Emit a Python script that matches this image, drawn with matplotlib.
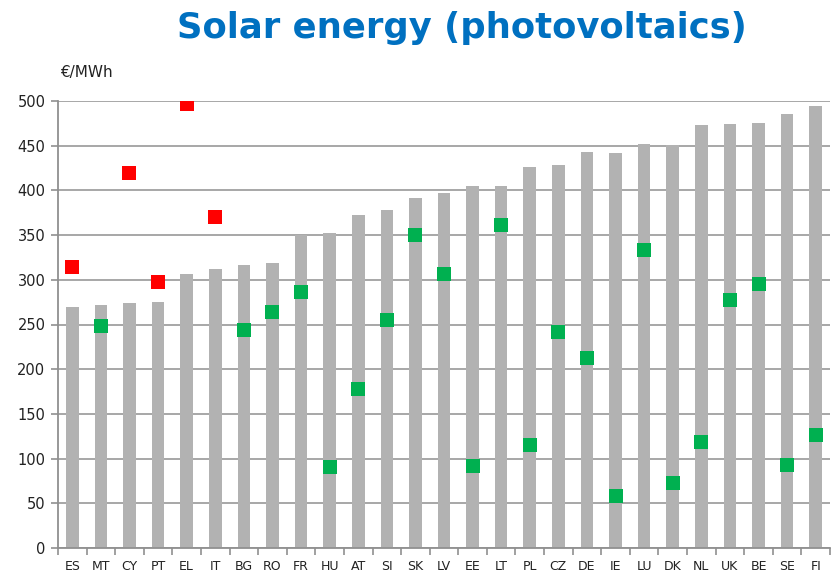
import matplotlib
matplotlib.use("Agg")
import matplotlib.pyplot as plt
import numpy as np

countries = ["ES", "MT", "CY", "PT", "EL", "IT", "BG", "RO", "FR", "HU", "AT", "SI", "SK",
             "LV", "EE", "LT", "PL", "CZ", "DE", "IE", "LU", "DK", "NL", "UK", "BE", "SE", "FI"]
bar_values = [270, 272, 274, 275, 306, 312, 316, 319, 350, 352, 372, 378, 391,
              397, 405, 405, 426, 428, 443, 442, 452, 451, 473, 474, 475, 486, 494]
red_countries = ["ES", "CY", "PT", "EL", "IT"]
red_values = [314, 420, 297, 497, 370]
green_countries = ["MT", "BG", "RO", "FR", "HU", "AT", "SI", "SK", "LV", "EE", "LT", "PL",
                   "CZ", "DE", "IE", "LU", "DK", "NL", "UK", "BE", "SE", "FI"]
green_values = [248, 244, 264, 286, 91, 178, 255, 350, 306, 92, 361, 115,
                242, 212, 58, 333, 73, 119, 277, 295, 93, 126]
y_ticks = [0, 50, 100, 150, 200, 250, 300, 350, 400, 450, 500]

fig = plt.figure(figsize=(8.32, 5.74), dpi=100)
ax = fig.add_axes([58/832, 26/574, (830-58)/832, (548-101)/574])

x = np.arange(len(countries))
idx = {c: i for i, c in enumerate(countries)}
ax.bar(x, bar_values, width=0.44, color="#B2B2B2", zorder=2)
ax.scatter([idx[c] for c in red_countries], red_values, marker="s", s=110,
           color="#FF0000", zorder=3, linewidths=0)
ax.scatter([idx[c] for c in green_countries], green_values, marker="s", s=110,
           color="#00B050", zorder=3, linewidths=0)

ax.set_xlim(-0.5, len(countries) - 0.5)
ax.set_ylim(0, 500)
ax.set_yticks(y_ticks)
ax.set_yticklabels([str(v) for v in y_ticks], fontsize=10.5, color="#222222")
ax.yaxis.grid(True, color="#A0A0A0", linewidth=1.3, zorder=0)
ax.set_axisbelow(True)

ax.set_xticks(x)
ax.set_xticklabels(countries, fontsize=9, color="#222222")
ax.tick_params(axis="x", which="major", length=0, pad=9)
ax.set_xticks(np.arange(-0.5, len(countries), 1), minor=True)
ax.tick_params(axis="x", which="minor", length=5, color="#909090", width=1.2)
ax.tick_params(axis="y", length=5, color="#909090", width=1.2, pad=4)

for s in ["top", "right"]:
    ax.spines[s].set_visible(False)
for s in ["left", "bottom"]:
    ax.spines[s].set_color("#909090")
    ax.spines[s].set_linewidth(1.3)

fig.text(60/832, 1 - 73/574, "€/MWh", fontsize=11, color="#222222", va="center", ha="left")
fig.text(462/832, 1 - 28/574, "Solar energy (photovoltaics)", fontsize=25.5,
         fontweight="bold", color="#0070C0", ha="center", va="center")

fig.savefig("out.png", dpi=100)
